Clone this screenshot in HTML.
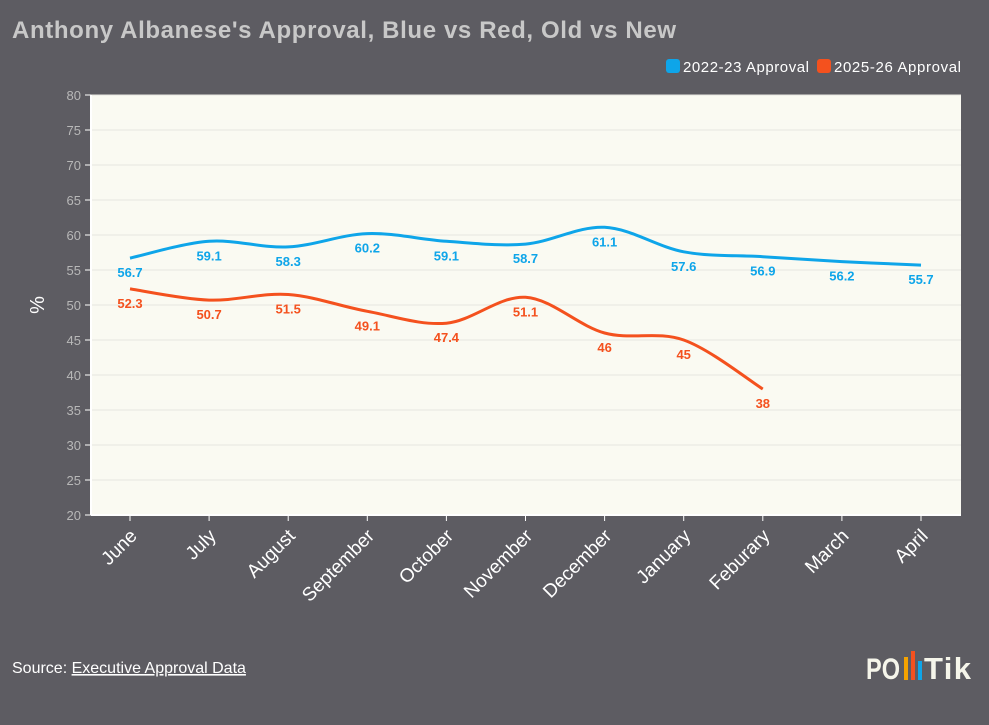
<!DOCTYPE html>
<html><head><meta charset="utf-8"><style>
body{margin:0;background:#5d5c62;width:989px;height:720px;overflow:hidden;font-family:"Liberation Sans",sans-serif}
</style></head><body>
<svg id="c" width="989" height="720">
<text x="12" y="38" fill="#c8c8c8" font-size="24" font-weight="bold" textLength="664">Anthony Albanese's Approval, Blue vs Red, Old vs New</text>
<g>
<rect x="666" y="59" width="14" height="14" rx="3" fill="#0ea5e9"/>
<text x="683" y="72" fill="#fff" font-size="15" textLength="126">2022-23 Approval</text>
<rect x="817" y="59" width="14" height="14" rx="3" fill="#f4511e"/>
<text x="834" y="72" fill="#fff" font-size="15" textLength="127">2025-26 Approval</text>
</g>
<rect x="91" y="95" width="870" height="420" fill="#fafaf2"/>
<g id="grid"></g><g id="axes"></g><g id="series"></g>
<text transform="translate(44,305) rotate(-90)" text-anchor="middle" fill="#fff" font-size="20">%</text>
<text x="12" y="673" fill="#fff" font-size="16">Source: <tspan text-decoration="underline">Executive Approval Data</tspan></text>
<g>
<text x="866" y="679" fill="#f5f5ea" font-size="30" font-weight="bold" textLength="34" lengthAdjust="spacingAndGlyphs">PO</text>
<rect x="904" y="657" width="4" height="23" fill="#f5a300"/>
<rect x="911" y="651" width="4" height="29" fill="#f4511e"/>
<rect x="918" y="661" width="4" height="19" fill="#0ea5e9"/>
<text x="924" y="679" fill="#f5f5ea" font-size="31" font-weight="bold" textLength="47">Tik</text>
</g>
</svg>
<script>
const categories=["June","July","August","September","October","November","December","January","Feburary","March","April"];
const blueValues=[56.7,59.1,58.3,60.2,59.1,58.7,61.1,57.6,56.9,56.2,55.7];
const redValues=[52.3,50.7,51.5,49.1,47.4,51.1,46,45,38];
const yTicks=[20,25,30,35,40,45,50,55,60,65,70,75,80];
const NS="http://www.w3.org/2000/svg";
const X0=91,X1=961,Y0=95,Y1=515;
const xs=i=>130+i*(921-130)/(categories.length-1);
const ys=v=>Y1-(v-20)/(80-20)*(Y1-Y0);
function mk(t,a,p){const e=document.createElementNS(NS,t);for(const k in a)e.setAttribute(k,a[k]);p.appendChild(e);return e;}
const grid=document.getElementById('grid'),axes=document.getElementById('axes'),ser=document.getElementById('series');
yTicks.forEach(v=>{
 if(v>20){const g=mk('line',{x1:X0,x2:X1,y1:ys(v),y2:ys(v),stroke:'#e6e6e0','stroke-width':1},grid);
 
 }
 mk('line',{x1:X0-6,x2:X0,y1:ys(v),y2:ys(v),stroke:'#fff'},axes);
 const t=mk('text',{x:X0-10,y:ys(v)+5,'text-anchor':'end',fill:'#b8b8b8','font-size':13},axes);t.textContent=v;
 
 
});
mk('line',{x1:X0,x2:X0,y1:Y0,y2:Y1,stroke:'#fff','stroke-width':2},axes);
mk('line',{x1:X0,x2:X1,y1:Y1,y2:Y1,stroke:'#fff','stroke-width':2},axes);
categories.forEach((c,i)=>{
 mk('line',{x1:xs(i),x2:xs(i),y1:Y1,y2:Y1+6,stroke:'#fff'},axes);
 const t=mk('text',{transform:`translate(${xs(i)+8},${Y1+22}) rotate(-45)`,'text-anchor':'end',fill:'#fff','font-size':19},axes);t.textContent=c;
 
 
});
function path(vals){const p=vals.map((v,i)=>[xs(i),ys(v)]);let d=`M${p[0][0]},${p[0][1]}`;
 for(let i=0;i<p.length-1;i++){const a=p[Math.max(i-1,0)],b=p[i],c=p[i+1],e=p[Math.min(i+2,p.length-1)];
 const t=6;d+=` C${b[0]+(c[0]-a[0])/t},${b[1]+(c[1]-a[1])/t} ${c[0]-(e[0]-b[0])/t},${c[1]-(e[1]-b[1])/t} ${c[0]},${c[1]}`;}return d;}
[[blueValues,'#0ea5e9','blue'],[redValues,'#f4511e','red']].forEach(([vals,col,n])=>{
 const l=mk('path',{d:path(vals),fill:'none',stroke:col,'stroke-width':3},ser);
 
 
 vals.forEach((v,i)=>{const t=mk('text',{x:xs(i),y:ys(v)+19,'text-anchor':'middle',fill:col,'font-size':13,'font-weight':'bold'},ser);t.textContent=v;
 
 });
});
</script>
</body></html>
